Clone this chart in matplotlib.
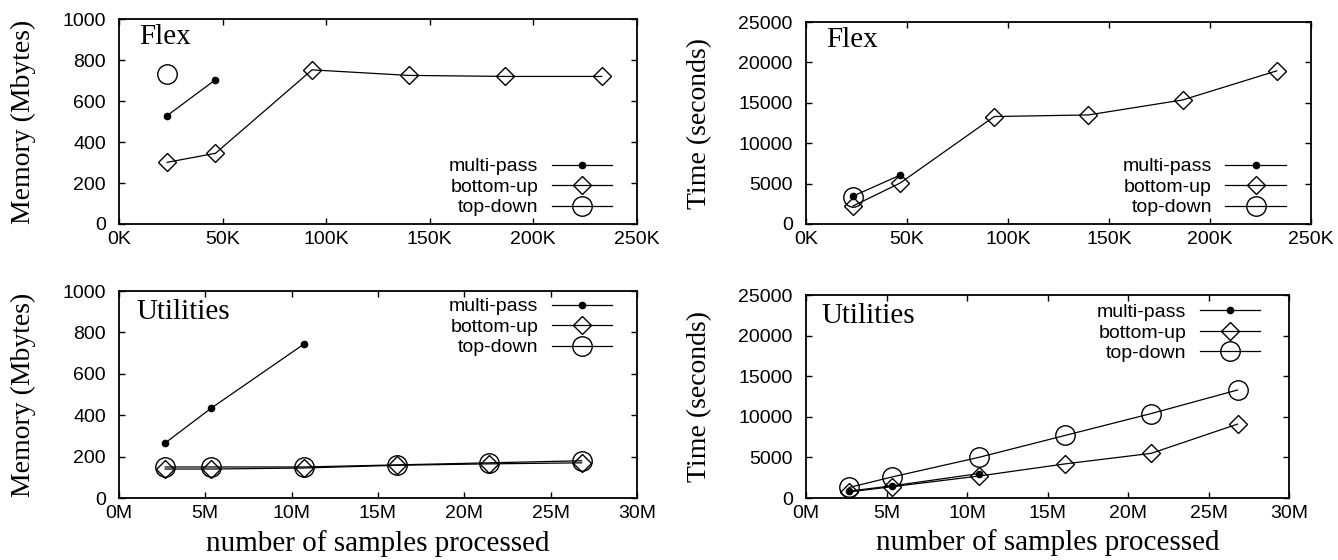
import numpy as np
import matplotlib
matplotlib.use('Agg')
import matplotlib.pyplot as plt

# x positions (thousands of samples for Flex, millions for Utilities)
flex_x = [23.3, 46.6, 93.2, 139.8, 186.4, 233.0]
util_x = [2.68, 5.36, 10.72, 16.08, 21.44, 26.8]

# Flex memory (Mbytes)
flex_mem_multi = [529, 704]
flex_mem_bottom = [301, 345, 752, 725, 720, 720]
flex_mem_top = [730]

# Flex time (seconds)
flex_time_multi = [3450, 6050]
flex_time_bottom = [2230, 5070, 13300, 13500, 15350, 18950]
flex_time_top = [3300]

# Utilities memory (Mbytes)
util_mem_multi = [266, 435, 744]
util_mem_bottom = [140, 140, 145, 158, 165, 170]
util_mem_top = [150, 150, 150, 160, 170, 180]

# Utilities time (seconds)
util_time_multi = [850, 1500, 3000]
util_time_bottom = [750, 1400, 2700, 4200, 5500, 9100]
util_time_top = [1300, 2600, 5000, 7700, 10400, 13300]

flex_ticks = [0, 50, 100, 150, 200, 250]
flex_ticklabels = ['0K', '50K', '100K', '150K', '200K', '250K']
util_ticks = [0, 5, 10, 15, 20, 25, 30]
util_ticklabels = ['0M', '5M', '10M', '15M', '20M', '25M', '30M']
mem_ticks = [0, 200, 400, 600, 800, 1000]
time_ticks = [0, 5000, 10000, 15000, 20000, 25000]

SANS = 'Liberation Sans'
SERIF = 'Liberation Serif'
plt.rcParams['font.family'] = SANS

fig = plt.figure(figsize=(13.38, 5.6), dpi=100)

ax_tl = fig.add_axes([0.0889, 0.6, 0.3871, 0.366])
ax_tr = fig.add_axes([0.6024, 0.6, 0.3774, 0.3607])
ax_bl = fig.add_axes([0.0889, 0.1107, 0.3871, 0.3696])
ax_br = fig.add_axes([0.6024, 0.1107, 0.361, 0.3625])

lw = 0.9
multi_kw = dict(color='black', lw=lw, marker='o', ms=4.5, label='multi-pass')
bottom_kw = dict(color='black', lw=lw, marker='D', ms=9.5, mfc='none', mew=1.0,
                 label='bottom-up')
top_kw = dict(color='black', lw=lw, marker='o', ms=14, mfc='none', mew=1.0,
              label='top-down')


def draw(ax, x, multi, bottom, top):
    ax.plot(x[:len(multi)], multi, **multi_kw)
    ax.plot(x[:len(bottom)], bottom, **bottom_kw)
    ax.plot(x[:len(top)], top, **top_kw)


draw(ax_tl, flex_x, flex_mem_multi, flex_mem_bottom, flex_mem_top)
draw(ax_tr, flex_x, flex_time_multi, flex_time_bottom, flex_time_top)
draw(ax_bl, util_x, util_mem_multi, util_mem_bottom, util_mem_top)
draw(ax_br, util_x, util_time_multi, util_time_bottom, util_time_top)

for ax, xt, xtl in [(ax_tl, flex_ticks, flex_ticklabels),
                    (ax_tr, flex_ticks, flex_ticklabels),
                    (ax_bl, util_ticks, util_ticklabels),
                    (ax_br, util_ticks, util_ticklabels)]:
    ax.set_xlim(xt[0], xt[-1])
    ax.set_xticks(xt)
    ax.set_xticklabels(xtl)
    for s in ax.spines.values():
        s.set_linewidth(1.3)
    ax.tick_params(direction='in', length=4, width=1.0, top=True, right=True,
                   labelsize=14)
    ax.tick_params(axis='x', pad=5)
    ax.tick_params(axis='y', pad=9.5)

for ax in (ax_tl, ax_bl):
    ax.set_ylim(0, 1000)
    ax.set_yticks(mem_ticks)
    ax.set_ylabel('Memory (Mbytes)', family=SERIF, fontsize=20)
    ax.yaxis.set_label_coords(-0.16, 0.5)
for ax in (ax_tr, ax_br):
    ax.set_ylim(0, 25000)
    ax.set_yticks(time_ticks)
    ax.set_ylabel('Time (seconds)', family=SERIF, fontsize=20)
    ax.yaxis.set_label_coords(-0.186 * 505 / (ax.get_position().width * 1338),
                              0.5)

for ax in (ax_bl, ax_br):
    ax.set_xlabel('number of samples processed', family=SERIF, fontsize=21)
    ax.xaxis.set_label_coords(0.5, -0.155)

# panel titles
ax_tl.text(0.04, 0.878, 'Flex', family=SERIF, fontsize=21, va='baseline',
           transform=ax_tl.transAxes)
ax_tr.text(0.04, 0.878, 'Flex', family=SERIF, fontsize=21, va='baseline',
           transform=ax_tr.transAxes)
ax_bl.text(0.033, 0.865, 'Utilities', family=SERIF, fontsize=21,
           va='baseline', transform=ax_bl.transAxes)
ax_br.text(0.031, 0.862, 'Utilities', family=SERIF, fontsize=21,
           va='baseline', transform=ax_br.transAxes)

# legends (gnuplot style: text right-aligned, sample on the right)
for ax, anchor in [(ax_tl, (0.952, 0.18)), (ax_tr, (0.95, 0.183)),
                   (ax_bl, (0.952, 0.826)), (ax_br, (0.94, 0.813))]:
    ax.legend(loc='center right', bbox_to_anchor=anchor, frameon=False,
              markerfirst=False, numpoints=1, fontsize=14, handlelength=3.1,
              handletextpad=0.7, labelspacing=0.15, borderpad=0,
              borderaxespad=0)

fig.savefig('out.png', dpi=100)
